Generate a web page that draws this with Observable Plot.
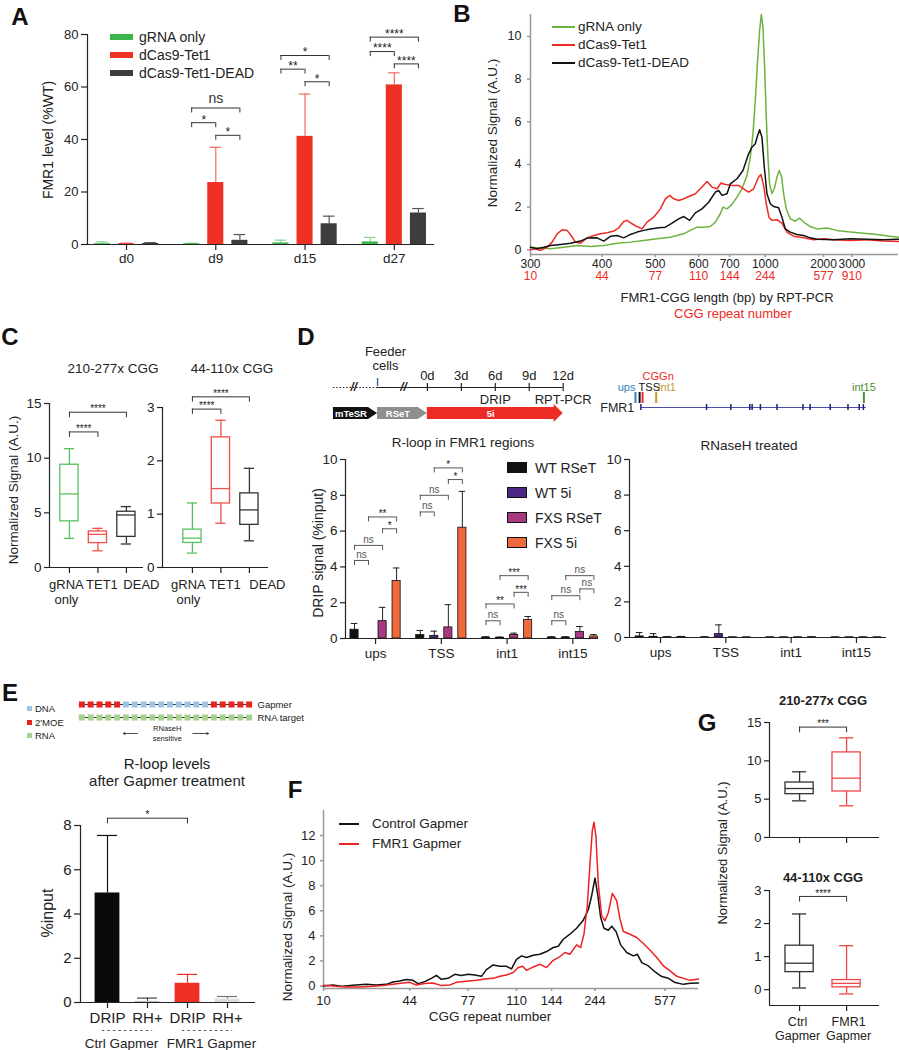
<!DOCTYPE html>
<html><head><meta charset="utf-8">
<script src="https://cdn.jsdelivr.net/npm/d3@7"></script>
<script src="https://cdn.jsdelivr.net/npm/@observablehq/plot@0.6"></script>
<style>
html,body{margin:0;padding:0;background:#fff;}
#fig{position:relative;width:899px;height:1050px;overflow:hidden;font-family:'Liberation Sans',Arial,Helvetica,sans-serif;color:#222;background:#fff;}
</style></head><body><div id="fig"></div>
<script>
// ================= DATA =================
// Panel A
const daysA = ["d0", "d9", "d15", "d27"];
const seriesA = ["gRNA only", "dCas9-Tet1", "dCas9-Tet1-DEAD"];
const meanGRNA = [0.3, 0.3, 0.6, 1.0];
const sdGRNA = [1.0, 0.5, 1.65, 2.7];
const meanTet1 = [0.3, 23.6, 41.2, 60.8];
const sdTet1 = [0.5, 37.0, 57.3, 65.4];
const meanDead = [0.4, 1.6, 7.9, 12.0];
const sdDead = [0.7, 3.8, 10.8, 13.7];
const sigA = [
  {g: 1, a: 0, b: 1, y: 46.4, t: "*"}, {g: 1, a: 1, b: 2, y: 41.6, t: "*"}, {g: 1, a: 0, b: 2, y: 52.0, t: "ns"},
  {g: 2, a: 0, b: 1, y: 66.8, t: "**"}, {g: 2, a: 1, b: 2, y: 62.0, t: "*"}, {g: 2, a: 0, b: 2, y: 72.0, t: "*"},
  {g: 3, a: 0, b: 1, y: 73.5, t: "****"}, {g: 3, a: 1, b: 2, y: 68.8, t: "****"}, {g: 3, a: 0, b: 2, y: 79.0, t: "****"}
];

// Panel B (x = electrophoretic mobility position, arbitrary units)
const bTickMob = [240, 455, 615, 745, 838, 945, 1120, 1205];
const bTickBp = ["300", "400", "500", "600", "700", "1000", "2000", "3000"];
const bTickCgg = ["10", "44", "77", "110", "144", "244", "577", "910"];
const seriesB = ["gRNA only", "dCas9-Tet1", "dCas9-Tet1-DEAD"];
const bGreenMob = [240,270,300,340,380,420,460,500,540,580,620,660,700,720,740,760,780,795,810,818,830,845,860,875,890,900,908,915,922,928,933,938,943,948,953,958,965,972,980,987,994,1000,1008,1020,1035,1048,1060,1080,1100,1130,1160,1200,1240,1280,1320,1345];
const bGreenSig = [0.12,0.09,0.05,0.12,0.2,0.16,0.2,0.31,0.36,0.44,0.52,0.59,0.75,0.91,1.06,1.06,1.09,1.3,1.69,2.0,1.92,2.13,2.47,2.86,3.48,4.34,5.44,7.0,8.88,10.28,11.03,10.44,8.56,6.22,4.34,3.09,2.63,2.86,3.41,3.72,3.41,2.63,1.92,1.45,1.34,1.48,1.3,1.09,0.98,1.02,0.91,0.83,0.78,0.72,0.63,0.59];
const bRedMob = [240,255,270,290,305,320,335,350,362,375,390,410,430,450,470,490,505,520,530,545,560,575,590,610,630,645,658,670,685,700,715,735,755,770,785,800,812,825,845,865,880,895,910,925,932,940,948,956,965,980,995,1010,1030,1060,1090,1120,1150,1200,1250,1300,1345];
const bRedSig = [0,0.05,-0.03,0.12,0.36,0.75,0.94,0.91,0.67,0.36,0.31,0.56,0.67,0.75,0.8,0.88,1.03,1.33,1.38,1.22,1.09,0.98,1.3,1.53,1.92,2.39,2.55,2.39,2.31,2.39,2.5,2.63,2.94,3.2,2.94,2.86,3.13,3.06,3.02,3.02,2.86,2.7,2.86,3.41,3.53,3.02,2.16,1.53,1.38,1.41,1.25,0.83,0.64,0.56,0.47,0.52,0.47,0.44,0.47,0.41,0.39];
const bBlackMob = [240,260,280,300,330,360,390,410,440,460,480,500,520,540,560,580,600,625,645,665,685,700,718,735,755,775,795,805,815,830,840,860,878,895,905,915,922,928,935,942,950,960,970,985,995,1005,1020,1040,1060,1080,1100,1150,1200,1250,1300,1345];
const bBlackSig = [0.12,0.05,0.12,0.2,0.25,0.31,0.41,0.55,0.56,0.41,0.63,0.67,0.56,0.72,0.83,0.91,0.98,1.03,1.06,1.25,1.45,1.56,1.38,1.73,1.92,2.23,2.7,2.78,2.55,2.63,3.09,3.33,3.72,4.5,4.81,4.97,5.36,5.63,5.28,3.88,2.63,2.16,2.03,1.97,1.53,0.98,0.83,0.72,0.67,0.56,0.5,0.47,0.52,0.5,0.47,0.5];

// Panel C (box summaries: min, q1, median, q3, max)
const catsC = ["gRNA\nonly", "TET1", "DEAD"];
const c1Min = [2.66, 1.53, 2.15], c1Q1 = [4.22, 2.23, 2.8], c1Med = [6.73, 3.03, 4.8], c1Q3 = [9.4, 3.3, 5.1], c1Max = [10.87, 3.58, 5.57];
const c2Min = [0.27, 0.83, 0.5], c2Q1 = [0.46, 1.2, 0.8], c2Med = [0.55, 1.48, 1.08], c2Q3 = [0.71, 2.44, 1.39], c2Max = [1.21, 2.76, 1.86];
const sigC1 = [{a: 0, b: 1, y: 12.4, t: "****"}, {a: 0, b: 2, y: 14.2, t: "****"}];
const sigC2 = [{a: 0, b: 1, y: 2.97, t: "****"}, {a: 0, b: 2, y: 3.2, t: "****"}];

// Panel D
const dayMarks = [0, 3, 6, 9, 12];
const stagesD = ["mTeSR", "RSeT", "5i"];
const stageStart = [-8.3, -4.4, 0];
const stageEnd = [-4.4, 0, 12];
const feederDay = -4.4;
const breakDays = [-6.5, -2.1];
const assaysD = ["DRIP", "RPT-PCR"];
const assayDays = [6, 12];
const exonsKb = [0, 11.1, 15.2, 18.4, 18.8, 20.2, 23.0, 27.4, 28.6, 32.0, 35.0, 36.9, 37.6];
const sitesD = ["ups", "TSS", "int1", "int15"];
const sitesKb = [-1.0, -0.3, 2.5, 37.6];
const cggKb = 0.2;
const regionsD = ["ups", "TSS", "int1", "int15"];
const seriesD = ["WT RSeT", "WT 5i", "FXS RSeT", "FXS 5i"];
const dripMean = [[0.49, 0.19, 0.05, 0.05], [0.0, 0.15, 0.04, 0.05], [0.97, 0.62, 0.2, 0.37], [3.21, 6.19, 1.03, 0.11]];
const dripSD = [[0.84, 0.45, 0.1, 0.1], [0.0, 0.41, 0.08, 0.1], [1.74, 1.89, 0.3, 0.67], [3.94, 8.22, 1.23, 0.22]];
const rnhMean = [[0.06, 0.01, 0.01, 0.01], [0.04, 0.19, 0.01, 0.01], [0.02, 0.01, 0.01, 0.01], [0.03, 0.01, 0.02, 0.01]];
const rnhSD = [[0.28, 0.03, 0.02, 0.02], [0.22, 0.71, 0.02, 0.02], [0.03, 0.02, 0.02, 0.02], [0.06, 0.02, 0.04, 0.02]];
const sigD = [
  {r: 0, a: 0, b: 1, y: 4.36, t: "ns"}, {r: 0, a: 0, b: 2, y: 5.2, t: "ns"}, {r: 0, a: 2, b: 3, y: 6.13, t: "*"}, {r: 0, a: 1, b: 3, y: 6.79, t: "**"},
  {r: 1, a: 0, b: 1, y: 7.07, t: "ns"}, {r: 1, a: 0, b: 2, y: 8.0, t: "ns"}, {r: 1, a: 2, b: 3, y: 8.88, t: "*"}, {r: 1, a: 1, b: 3, y: 9.53, t: "*"},
  {r: 2, a: 0, b: 1, y: 0.99, t: "ns"}, {r: 2, a: 0, b: 2, y: 1.93, t: "**"}, {r: 2, a: 2, b: 3, y: 2.58, t: "***"}, {r: 2, a: 1, b: 3, y: 3.51, t: "***"},
  {r: 3, a: 0, b: 1, y: 0.99, t: "ns"}, {r: 3, a: 0, b: 2, y: 2.39, t: "ns"}, {r: 3, a: 2, b: 3, y: 2.77, t: "ns"}, {r: 3, a: 1, b: 3, y: 3.51, t: "ns"}
];

// Panel E
const unitTypes = ["DNA", "2'MOE", "RNA"];
const gapmerUnits = ["2'MOE","2'MOE","2'MOE","2'MOE","2'MOE","DNA","DNA","DNA","DNA","DNA","DNA","DNA","DNA","DNA","DNA","2'MOE","2'MOE","2'MOE","2'MOE","2'MOE"];
const rnaUnits = ["RNA","RNA","RNA","RNA","RNA","RNA","RNA","RNA","RNA","RNA","RNA","RNA","RNA","RNA","RNA","RNA","RNA","RNA","RNA","RNA"];
const catsE = ["DRIP", "RH+", "DRIP", "RH+"];
const groupsE = ["Ctrl Gapmer", "FMR1 Gapmer"];
const meanE = [4.95, 0.05, 0.87, 0.15];
const sdE = [7.55, 0.2, 1.27, 0.27];
const sigE = [{a: 0, b: 2, y: 8.33, t: "*"}];

// Panel F
const fTickMob = [72, 330, 505, 650, 755, 885, 1095];
const fTickCgg = ["10", "44", "77", "110", "144", "244", "577"];
const seriesF = ["Control Gapmer", "FMR1 Gapmer"];
const fBlackMob = [72,100,130,160,200,230,260,280,300,320,340,355,375,395,410,425,445,465,485,505,525,545,560,580,600,620,635,650,665,680,700,720,740,760,775,790,810,830,850,865,875,885,893,902,912,925,935,948,962,980,1000,1012,1025,1045,1065,1085,1105,1125,1150,1170,1195];
const fBlackSig = [0,0.08,-0.03,0.05,0.13,0.08,0.13,0.32,0.4,0.51,0.45,0.19,0.35,0.61,0.85,0.53,0.61,0.93,0.83,0.93,0.88,0.77,1.31,1.68,1.57,1.57,1.36,2.13,2.4,2.27,2.45,2.53,2.75,3.07,3.17,3.73,4.13,4.61,5.25,6.08,7.2,8.61,7.33,5.47,4.61,4.45,4.77,4.35,3.28,2.67,2.4,2.53,1.87,1.6,1.12,0.75,0.61,0.27,0.13,0.21,0.24];
const fRedMob = [72,100,140,180,220,250,280,310,330,350,375,400,425,450,470,500,530,555,580,600,620,640,655,668,680,700,720,740,760,780,795,810,830,842,852,862,870,877,882,888,895,905,915,925,937,950,960,970,990,1010,1030,1050,1070,1090,1110,1130,1150,1170,1195];
const fRedSig = [0.05,0,-0.08,-0.08,-0.03,0.03,0.13,0.24,0.29,0.08,0.19,0.24,0.03,0.08,0.29,0.37,0.45,0.56,0.61,0.77,0.88,1.07,1.47,1.57,1.25,1.52,1.73,1.47,2.05,2.35,2.67,2.53,3.28,3.07,4.13,6.4,9.73,12.4,13.07,11.87,8.13,5.6,5.2,5.87,7.39,6.8,5.33,4.35,4.13,3.87,3.39,2.85,2.27,1.6,1.2,0.77,0.61,0.45,0.56];

// Panel G
const catsG = ["Ctrl\nGapmer", "FMR1\nGapmer"];
const g1Min = [4.78, 4.13], g1Q1 = [5.65, 6.0], g1Med = [6.39, 7.74], g1Q3 = [7.17, 11.1], g1Max = [8.57, 13.0];
const g2Min = [0.05, -0.13], g2Q1 = [0.53, 0.07], g2Med = [0.8, 0.19], g2Q3 = [1.33, 0.29], g2Max = [2.29, 1.33];
const sigG1 = [{a: 0, b: 1, y: 14.4, t: "***"}];
const sigG2 = [{a: 0, b: 1, y: 2.82, t: "****"}];

// ================= HELPERS =================
const FONT = "'Liberation Sans', Arial, Helvetica, sans-serif";
const fig = document.getElementById("fig");
const intFmt = d => String(d);

function P(opts, left, top, fs = 13) {
  const svg = Plot.plot({
    color: {type: "identity"},
    ...opts,
    style: {fontFamily: FONT, fontSize: fs + "px", color: "#222", background: "none", overflow: "visible"}
  });
  svg.style.position = "absolute";
  svg.style.left = left + "px";
  svg.style.top = top + "px";
  fig.appendChild(svg);
  return svg;
}
function T(s, x, y, o = {}) {
  const d = document.createElement("div");
  d.textContent = s;
  const tx = o.anchor === "start" ? "0" : o.anchor === "end" ? "-100%" : "-50%";
  d.style.cssText = `position:absolute;left:${x}px;top:${y}px;white-space:nowrap;line-height:1;font-size:${o.size || 13}px;color:${o.color || "#222"};font-weight:${o.weight || "normal"};transform:translate(${tx},-50%)${o.rotate ? ` rotate(${o.rotate}deg)` : ""};`;
  fig.appendChild(d);
}
function R(x, y, w, h, css) {
  const d = document.createElement("div");
  d.style.cssText = `position:absolute;left:${x}px;top:${y}px;width:${w}px;height:${h}px;${css}`;
  fig.appendChild(d);
}
function frameAxes({x0, y0, xt, xf, yt, yf = intFmt, xts = 5, yts = 5, xpad = 3, ypad = 3, ac = "#222", sw = 1.2, xfs, yfs}) {
  return [
    Plot.ruleX([x0], {stroke: ac, strokeWidth: sw}),
    Plot.ruleY([y0], {stroke: ac, strokeWidth: sw}),
    Plot.axisY({ticks: yt, tickFormat: yf, tickSize: yts, tickPadding: ypad, label: null, stroke: ac, fill: "#222", fontSize: yfs, strokeWidth: sw}),
    Plot.axisX({ticks: xt, tickFormat: xf, tickSize: xts, tickPadding: xpad, label: null, stroke: ac, fill: "#222", fontSize: xfs, strokeWidth: sw})
  ];
}
function BR(rows, leg, {stroke = "#333", sw = 1, fs = 11, nsfs = 11, nsc = "#555", dyS = -3, dyN = -7} = {}) {
  return [
    Plot.ruleY(rows, {y: "y", x1: "x1", x2: "x2", stroke, strokeWidth: sw}),
    Plot.ruleX(rows, {x: "x1", y1: d => d.y - leg, y2: "y", stroke, strokeWidth: sw}),
    Plot.ruleX(rows, {x: "x2", y1: d => d.y - leg, y2: "y", stroke, strokeWidth: sw}),
    Plot.text(rows.filter(d => d.t !== "ns"), {x: d => (d.x1 + d.x2) / 2, y: "y", text: "t", dy: dyS, fontSize: fs, fill: "#222"}),
    Plot.text(rows.filter(d => d.t === "ns"), {x: d => (d.x1 + d.x2) / 2, y: "y", text: "t", dy: dyN, fontSize: nsfs, fill: nsc})
  ];
}
function boxRows(cols, mins, q1s, meds, q3s, maxs) {
  return mins.map((_, i) => ({x: i, min: mins[i], q1: q1s[i], med: meds[i], q3: q3s[i], max: maxs[i], c: cols[i]}));
}
function boxMarks(rows, hw, cw, sw = 1.3) {
  return [
    Plot.ruleX(rows, {x: "x", y1: "min", y2: "max", stroke: "c", strokeWidth: sw}),
    Plot.rect(rows, {x1: d => d.x - hw, x2: d => d.x + hw, y1: "q1", y2: "q3", fill: "white", stroke: "c", strokeWidth: sw}),
    Plot.ruleY(rows, {y: "med", x1: d => d.x - hw, x2: d => d.x + hw, stroke: "c", strokeWidth: sw}),
    Plot.ruleY(rows, {y: "min", x1: d => d.x - cw, x2: d => d.x + cw, stroke: "c", strokeWidth: sw}),
    Plot.ruleY(rows, {y: "max", x1: d => d.x - cw, x2: d => d.x + cw, stroke: "c", strokeWidth: sw})
  ];
}
// category labels under an axis, nudged sideways (px) as in the original layout
function catLabels(cats, xs, y0, nudges, dy, fs) {
  return cats.map((c, i) => Plot.text([c], {x: xs[i], y: y0, text: d => d, dx: nudges[i], dy, lineAnchor: "top", fontSize: fs, lineHeight: 1.15}));
}
const pairs = (xs, ys) => xs.map((m, i) => ({m, v: ys[i]}));

// ================= PANEL LETTERS =================
[["A", 20, 17], ["B", 462, 14], ["C", 10, 337], ["D", 306, 337], ["E", 10, 693], ["F", 295, 790], ["G", 707, 723]]
  .forEach(([l, x, y]) => T(l, x, y, {size: 24, weight: "bold", color: "#111"}));

// ================= PANEL A =================
const offA = [-0.27, 0, 0.27];
const colA = ["#3cb54a", "#ee3124", "#3d3d3d"];
const errColA = ["#86d38f", "#f26b62", "#555555"];
const meansA = [meanGRNA, meanTet1, meanDead], sdsA = [sdGRNA, sdTet1, sdDead];
const rowsA = meansA.flatMap((arr, s) => arr.map((v, i) => ({x: i + offA[s], v, e: sdsA[s][i], c: colA[s], ec: errColA[s]})));
const brA = sigA.map(d => ({x1: d.g + offA[d.a], x2: d.g + offA[d.b], y: d.y, t: d.t}));
P({
  width: 440, height: 290, marginLeft: 87, marginRight: 6, marginTop: 34, marginBottom: 46,
  x: {domain: [-0.437, 3.45]}, y: {domain: [0, 80]},
  marks: [
    Plot.ruleX(rowsA, {x: "x", y1: "v", y2: "e", stroke: "ec", strokeWidth: 1.2}),
    Plot.ruleY(rowsA, {y: "e", x1: d => d.x - 0.065, x2: d => d.x + 0.065, stroke: "ec", strokeWidth: 1.2}),
    Plot.rect(rowsA, {x1: d => d.x - 0.09, x2: d => d.x + 0.09, y1: 0, y2: "v", fill: "c"}),
    ...BR(brA, 1.9, {fs: 12, nsfs: 14, nsc: "#333", dyS: -3, dyN: -9}),
    ...frameAxes({x0: -0.437, y0: 0, xt: [0, 1, 2, 3], xf: d => daysA[d], yt: [0, 20, 40, 60, 80], xts: 6, yts: 6, xpad: 3, xfs: 13.5, yfs: 13})
  ]
}, 0, 0, 13);
T("FMR1 level (%WT)", 48, 140, {rotate: -90, size: 14});
seriesA.forEach((s, i) => {
  R(110, 34 + 18 * i, 23, 6, `background:${colA[i]}`);
  T(s, 139, 37 + 18 * i, {anchor: "start", size: 14});
});

// ================= PANEL B =================
const colB = ["#6db33f", "#ee2a24", "#111111"];
const bMap = new Map(bTickMob.map((m, i) => [m, bTickBp[i]]));
const cMap = new Map(bTickMob.map((m, i) => [m, bTickCgg[i]]));
P({
  width: 449, height: 320, marginLeft: 80, marginRight: 1, marginTop: 14, marginBottom: 66,
  x: {domain: [240, 1345]}, y: {domain: [-0.22, 11.03]},
  marks: [
    ...frameAxes({x0: 240, y0: -0.22, xt: bTickMob, xf: d => bMap.get(d), yt: [0, 2, 4, 6, 8, 10], xts: 3, yts: 3, xpad: 2, ypad: 6, ac: "#999", sw: 1.5, xfs: 12, yfs: 12.5}),
    Plot.axisX({ticks: bTickMob, tickFormat: d => cMap.get(d), tickSize: 0, tickPadding: 17, label: null, fill: "#ee2a24", stroke: "none", fontSize: 12}),
    Plot.line(pairs(bGreenMob, bGreenSig), {x: "m", y: "v", stroke: colB[0], strokeWidth: 1.5}),
    Plot.line(pairs(bRedMob, bRedSig), {x: "m", y: "v", stroke: colB[1], strokeWidth: 1.5}),
    Plot.line(pairs(bBlackMob, bBlackSig), {x: "m", y: "v", stroke: colB[2], strokeWidth: 1.5})
  ]
}, 450, 0, 12.5);
T("Normalized Signal (A.U.)", 493, 133, {rotate: -90, size: 13.5});
T("FMR1-CGG length (bp) by RPT-PCR", 727, 297, {size: 13});
T("CGG repeat number", 733, 313, {size: 13, color: "#ee2a24"});
seriesB.forEach((s, i) => {
  R(552, 26 + 18 * i, 23, 2, `background:${colB[i]}`);
  T(s, 578, 27 + 18 * i, {anchor: "start", size: 13.5});
});

// ================= PANEL C =================
const colC = ["#55c35f", "#f0504a", "#333333"];
T("210-277x CGG", 113, 369, {size: 13.5});
T("44-110x CGG", 232, 369, {size: 13.5});
const brC1 = sigC1.map(d => ({x1: d.a, x2: d.b, y: d.y, t: d.t}));
const brC2 = sigC2.map(d => ({x1: d.a, x2: d.b, y: d.y, t: d.t}));
P({
  width: 150, height: 230, marginLeft: 49, marginRight: 7, marginTop: 13, marginBottom: 53,
  x: {domain: [-0.70, 2.6]}, y: {domain: [0, 15]},
  marks: [
    ...boxMarks(boxRows(colC, c1Min, c1Q1, c1Med, c1Q3, c1Max), 0.32, 0.18),
    ...BR(brC1, 0.5, {fs: 10, dyS: -3}),
    ...frameAxes({x0: -0.70, y0: 0, xt: [0, 1, 2], xf: () => "", yt: [0, 5, 10, 15], xts: 6, yts: 5, xpad: 4, xfs: 13.5, yfs: 13.5}),
    ...catLabels(catsC, [0, 1, 2], 0, [-3, 4, 15], 11, 13)
  ]
}, 0, 390, 13.5);
P({
  width: 155, height: 230, marginLeft: 42, marginRight: 7, marginTop: 17, marginBottom: 53,
  x: {domain: [-1.05, 2.67]}, y: {domain: [0, 3]},
  marks: [
    ...boxMarks(boxRows(colC, c2Min, c2Q1, c2Med, c2Q3, c2Max), 0.32, 0.18),
    ...BR(brC2, 0.1, {fs: 10, dyS: -3}),
    ...frameAxes({x0: -1.05, y0: 0, xt: [0, 1, 2], xf: () => "", yt: [0, 1, 2, 3], xts: 6, yts: 5, xpad: 4, xfs: 13.5, yfs: 13.5}),
    ...catLabels(catsC, [0, 1, 2], 0, [-4, 4, 18], 11, 13)
  ]
}, 120, 390, 13.5);
T("Normalized Signal (A.U.)", 14, 490, {rotate: -90, size: 13.5});

// ================= PANEL D : timeline =================
const stageCol = ["#111111", "#8e8e8e", "#ee2a24"];
const headExtra = [0, 0, 3];
const arrowPts = stagesD.flatMap((s, i) => {
  const a = stageStart[i], b = stageEnd[i], h = b - 0.8, c = stageCol[i], e = headExtra[i];
  return [
    {s, x: a, y1: 67, y2: 79, c}, {s, x: h, y1: 67, y2: 79, c},
    {s, x: h, y1: 67 - e, y2: 79 + e, c}, {s, x: b, y1: 73, y2: 73, c}
  ];
});
P({
  width: 300, height: 95,
  x: {domain: [-9, 13], range: [25, 274], axis: null}, y: {domain: [0, 95], range: [0, 95], axis: null},
  marks: [
    Plot.ruleY([47], {x1: -8.3, x2: feederDay, stroke: "#222", strokeDasharray: "1.5,1.8", strokeWidth: 1.2}),
    Plot.ruleY([47], {x1: feederDay, x2: 12, stroke: "#222", strokeWidth: 1.2}),
    Plot.ruleX(dayMarks, {x: d => d, y1: 43, y2: 51, stroke: "#222", strokeWidth: 1.2}),
    Plot.text(dayMarks, {x: d => d, y: 35, text: d => d + "d", fontSize: 13}),
    Plot.ruleX([feederDay], {x: d => d, y1: 38, y2: 46, stroke: "#2f6db5", strokeWidth: 1.5}),
    Plot.text(["Feeder\ncells"], {x: feederDay + 0.7, y: 18, text: d => d, fontSize: 13, lineHeight: 1.05}),
    Plot.text(breakDays, {x: d => d, y: 47, text: () => "//", fontSize: 12, fontWeight: "bold", fontStyle: "italic"}),
    Plot.areaY(arrowPts, {x: "x", y1: "y1", y2: "y2", z: "s", fill: "c"}),
    Plot.text(stagesD, {x: (d, i) => (stageStart[i] + stageEnd[i] - 0.8) / 2, y: 73, text: d => d, fill: "white", fontWeight: "bold", fontSize: 9.5}),
    Plot.text(assaysD, {x: (d, i) => assayDays[i], y: 59, text: d => d, fontSize: 13})
  ]
}, 300, 340, 13);
T("R-loop in FMR1 regions", 463, 443, {size: 13.5});

// ================= PANEL D : gene model =================
const siteCol = ["#2f7fc1", "#111111", "#c9962e", "#4e8f2f"];
P({
  width: 300, height: 60,
  x: {domain: [-8.6, 42.1], range: [0, 300], axis: null}, y: {domain: [0, 60], range: [0, 60], axis: null},
  marks: [
    Plot.ruleY([47], {x1: 0, x2: 38, stroke: "#4b4ba8", strokeWidth: 1}),
    Plot.rect(exonsKb, {x1: d => d - 0.13, x2: d => d + 0.13, y1: 44, y2: 50, fill: "#23237a"}),
    Plot.ruleX(sitesKb, {x: d => d, y1: 32, y2: 43, stroke: (d, i) => siteCol[i], strokeWidth: 2}),
    Plot.ruleX([cggKb], {x: d => d, y1: 32, y2: 43, stroke: "#ee2a24", strokeWidth: 2}),
    Plot.text([sitesD[0]], {x: sitesKb[0], y: 27, text: d => d, textAnchor: "end", dx: 0, fill: siteCol[0], fontSize: 11}),
    Plot.text([sitesD[1]], {x: sitesKb[1], y: 27, text: d => d, textAnchor: "start", dx: -1, fill: siteCol[1], fontSize: 11}),
    Plot.text([sitesD[2]], {x: sitesKb[2], y: 27, text: d => d, textAnchor: "start", dx: 2, fill: siteCol[2], fontSize: 11}),
    Plot.text([sitesD[3]], {x: sitesKb[3], y: 27, text: d => d, fill: siteCol[3], fontSize: 11}),
    Plot.text(["CGGn"], {x: cggKb, y: 16, text: d => d, textAnchor: "start", dx: 0, fill: "#ee2a24", fontSize: 11}),
    Plot.text(["FMR1"], {x: -1.2, y: 47, text: d => d, textAnchor: "end", fontSize: 12.5})
  ]
}, 590, 360, 12);
T("RNaseH treated", 749, 446, {size: 13.5});

// ================= PANEL D : bars =================
const offD = [-0.32, -0.107, 0.107, 0.32];
const colD = ["#111111", "#4b2683", "#a6397f", "#ee6a3c"];
function rowsD(means, sds) {
  return means.flatMap((arr, s) => arr.map((v, r) => ({x: r + offD[s], v, e: sds[s][r], c: colD[s]})));
}
function barMarksD(rows) {
  return [
    Plot.ruleX(rows.filter(d => d.e > d.v), {x: "x", y1: "v", y2: "e", stroke: "#222", strokeWidth: 1}),
    Plot.ruleY(rows.filter(d => d.e > d.v), {y: "e", x1: d => d.x - 0.05, x2: d => d.x + 0.05, stroke: "#222", strokeWidth: 1}),
    Plot.rect(rows.filter(d => d.v > 0), {x1: d => d.x - 0.062, x2: d => d.x + 0.062, y1: 0, y2: "v", fill: "c", stroke: "#111", strokeWidth: 0.8})
  ];
}
const brD = sigD.map(d => ({x1: d.r + offD[d.a], x2: d.r + offD[d.b], y: d.y, t: d.t}));
P({
  width: 300, height: 220, marginLeft: 45, marginRight: 2, marginTop: 14, marginBottom: 27,
  x: {domain: [-0.457, 3.39]}, y: {domain: [0, 10]},
  marks: [
    ...barMarksD(rowsD(dripMean, dripSD)),
    ...BR(brD, 0.28, {stroke: "#444", sw: 0.9, fs: 10, nsfs: 10, nsc: "#555", dyS: -3, dyN: -6}),
    ...frameAxes({x0: -0.457, y0: 0, xt: [0, 1, 2, 3], xf: d => regionsD[d], yt: [0, 2, 4, 6, 8, 10], xts: 6, yts: 5, xpad: 4, xfs: 13.5, yfs: 13.5})
  ]
}, 300, 445, 13.5);
T("DRIP signal (%input)", 318, 553, {rotate: -90, size: 14});
seriesD.forEach((s, i) => {
  R(507, 462 + 25 * i, 20, 11, `background:${colD[i]};border:1px solid #111;box-sizing:border-box`);
  T(s, 535, 468 + 25 * i, {anchor: "start", size: 14});
});
P({
  width: 300, height: 220, marginLeft: 39, marginRight: 4, marginTop: 14, marginBottom: 28,
  x: {domain: [-0.475, 3.46]}, y: {domain: [0, 10]},
  marks: [
    ...barMarksD(rowsD(rnhMean, rnhSD)),
    ...frameAxes({x0: -0.475, y0: 0, xt: [0, 1, 2, 3], xf: d => regionsD[d], yt: [0, 2, 4, 6, 8, 10], xts: 6, yts: 5, xpad: 4, xfs: 13.5, yfs: 13.5})
  ]
}, 590, 445, 13.5);

// ================= PANEL E =================
const unitCol = {"DNA": "#9dc3e6", "2'MOE": "#e8231f", "RNA": "#a6d18e"};
unitTypes.forEach((u, i) => {
  R(27, 706 + 13.5 * i, 5, 5, `background:${unitCol[u]}`);
  T(u, 35, 709 + 13.5 * i, {anchor: "start", size: 9.5});
});
P({
  width: 200, height: 50,
  x: {domain: [-0.5, 19.5], range: [7, 183], axis: null}, y: {domain: [0, 50], range: [0, 50], axis: null},
  marks: [
    Plot.ruleY([9, 22], {x1: -0.3, x2: 19.3, stroke: "#333", strokeWidth: 1}),
    Plot.dot(gapmerUnits, {x: (d, i) => i, y: 9, symbol: "square", r: 3.4, fill: d => unitCol[d]}),
    Plot.dot(rnaUnits, {x: (d, i) => i, y: 22, symbol: "square", r: 3.4, fill: d => unitCol[d]}),
    Plot.text(["Gapmer", "RNA target"], {x: 19.5, y: (d, i) => [9, 22][i], text: d => d, textAnchor: "start", dx: 4, fontSize: 9.5}),
    Plot.text(["RNaseH\nsensitive"], {x: 9.7, y: 37, text: d => d, fontSize: 7.5, lineHeight: 1.35}),
    Plot.arrow([{x1: 6.3, x2: 4.7}, {x1: 12.6, x2: 14.4}], {x1: "x1", x2: "x2", y1: 38, y2: 38, headLength: 4, strokeWidth: 0.8, stroke: "#222"})
  ]
}, 70, 695, 9.5);
T("R-loop levels", 167, 763, {size: 15});
T("after Gapmer treatment", 167, 780, {size: 15});
const colE = ["#0a0a0a", "#bdbdbd", "#ee3124", "#dcdcdc"];
const errColE = ["#111111", "#444444", "#ee3124", "#777777"];
const rowsE = catsE.map((c, i) => ({x: i, v: meanE[i], e: sdE[i], c: colE[i], ec: errColE[i]}));
const brE = sigE.map(d => ({x1: d.a, x2: d.b, y: d.y, t: d.t}));
P({
  width: 270, height: 260, marginLeft: 80, marginRight: 15, marginTop: 35, marginBottom: 48,
  x: {domain: [-0.675, 3.7]}, y: {domain: [0, 8]},
  marks: [
    Plot.ruleX(rowsE, {x: "x", y1: "v", y2: "e", stroke: "ec", strokeWidth: 1.2}),
    Plot.ruleY(rowsE, {y: "e", x1: d => d.x - 0.25, x2: d => d.x + 0.25, stroke: "ec", strokeWidth: 1.2}),
    Plot.rect(rowsE, {x1: d => d.x - 0.31, x2: d => d.x + 0.31, y1: 0, y2: "v", fill: "c"}),
    ...BR(brE, 0.25, {fs: 11, dyS: -4}),
    ...frameAxes({x0: -0.675, y0: 0, xt: [0, 1, 2, 3], xf: d => catsE[d], yt: [0, 2, 4, 6, 8], xts: 6, yts: 6, xpad: 4, xfs: 15, yfs: 15}),
    Plot.ruleY(groupsE, {x1: (d, i) => 2 * i + 0.5 - 0.63, x2: (d, i) => 2 * i + 0.5 + 0.63, y: 0, dy: 28, stroke: "#555", strokeDasharray: "2.5,3", strokeWidth: 1}),
    ...catLabels(groupsE, [0.5, 2.5], 0, [-6, 4], 34, 13.5)
  ]
}, 0, 790, 15);
T("%input", 48, 913, {rotate: -90, size: 16});

// ================= PANEL F =================
const colF = ["#111111", "#ee2222"];
const fMap = new Map(fTickMob.map((m, i) => [m, fTickCgg[i]]));
P({
  width: 435, height: 235, marginLeft: 53, marginRight: 7, marginTop: 15, marginBottom: 42,
  x: {domain: [72, 1195]}, y: {domain: [-0.2, 14]},
  marks: [
    ...frameAxes({x0: 72, y0: -0.2, xt: fTickMob, xf: d => fMap.get(d), yt: [0, 2, 4, 6, 8, 10, 12], xts: 3, yts: 3, xpad: 4, ypad: 5, ac: "#999", sw: 1.5, xfs: 13, yfs: 13}),
    Plot.line(pairs(fBlackMob, fBlackSig), {x: "m", y: "v", stroke: colF[0], strokeWidth: 1.5}),
    Plot.line(pairs(fRedMob, fRedSig), {x: "m", y: "v", stroke: colF[1], strokeWidth: 1.5})
  ]
}, 270, 795, 13);
T("Normalized Signal (A.U.)", 288, 927, {rotate: -90, size: 13.5});
T("CGG repeat number", 490, 1017, {size: 13.5});
seriesF.forEach((s, i) => {
  R(339, 823 + 20 * i, 20, 2, `background:${colF[i]}`);
  T(s, 372, 824 + 20 * i, {anchor: "start", size: 13.5});
});

// ================= PANEL G =================
const colG = ["#333333", "#f04848"];
T("210-277x CGG", 823, 700, {size: 13, weight: "bold"});
T("44-110x CGG", 823, 877, {size: 13, weight: "bold"});
T("Normalized Signal (A.U.)", 722, 853, {rotate: -90, size: 13});
const brG1 = sigG1.map(d => ({x1: d.a, x2: d.b, y: d.y, t: d.t}));
const brG2 = sigG2.map(d => ({x1: d.a, x2: d.b, y: d.y, t: d.t}));
P({
  width: 190, height: 160, marginLeft: 69, marginRight: 11, marginTop: 22, marginBottom: 23,
  x: {domain: [-0.64, 1.70]}, y: {domain: [0, 15]},
  marks: [
    ...boxMarks(boxRows(colG, g1Min, g1Q1, g1Med, g1Q3, g1Max), 0.3, 0.15),
    ...BR(brG1, 0.74, {fs: 10, dyS: -3}),
    ...frameAxes({x0: -0.64, y0: 0, xt: [0, 1], xf: () => "", yt: [0, 5, 10, 15], xts: 6, yts: 5, xfs: 13, yfs: 13})
  ]
}, 700, 700, 13);
P({
  width: 190, height: 180, marginLeft: 69, marginRight: 11, marginTop: 20, marginBottom: 45,
  x: {domain: [-0.64, 1.70]}, y: {domain: [-0.48, 3]},
  marks: [
    ...boxMarks(boxRows(colG, g2Min, g2Q1, g2Med, g2Q3, g2Max), 0.3, 0.15),
    ...BR(brG2, 0.17, {fs: 10, dyS: -3}),
    ...frameAxes({x0: -0.64, y0: -0.48, xt: [0, 1], xf: () => "", yt: [0, 1, 2, 3], xts: 6, yts: 5, xfs: 12.5, yfs: 13}),
    ...catLabels(catsG, [0, 1], -0.48, [-2, 2], 10, 12.5)
  ]
}, 700, 870, 13);
</script></body></html>
